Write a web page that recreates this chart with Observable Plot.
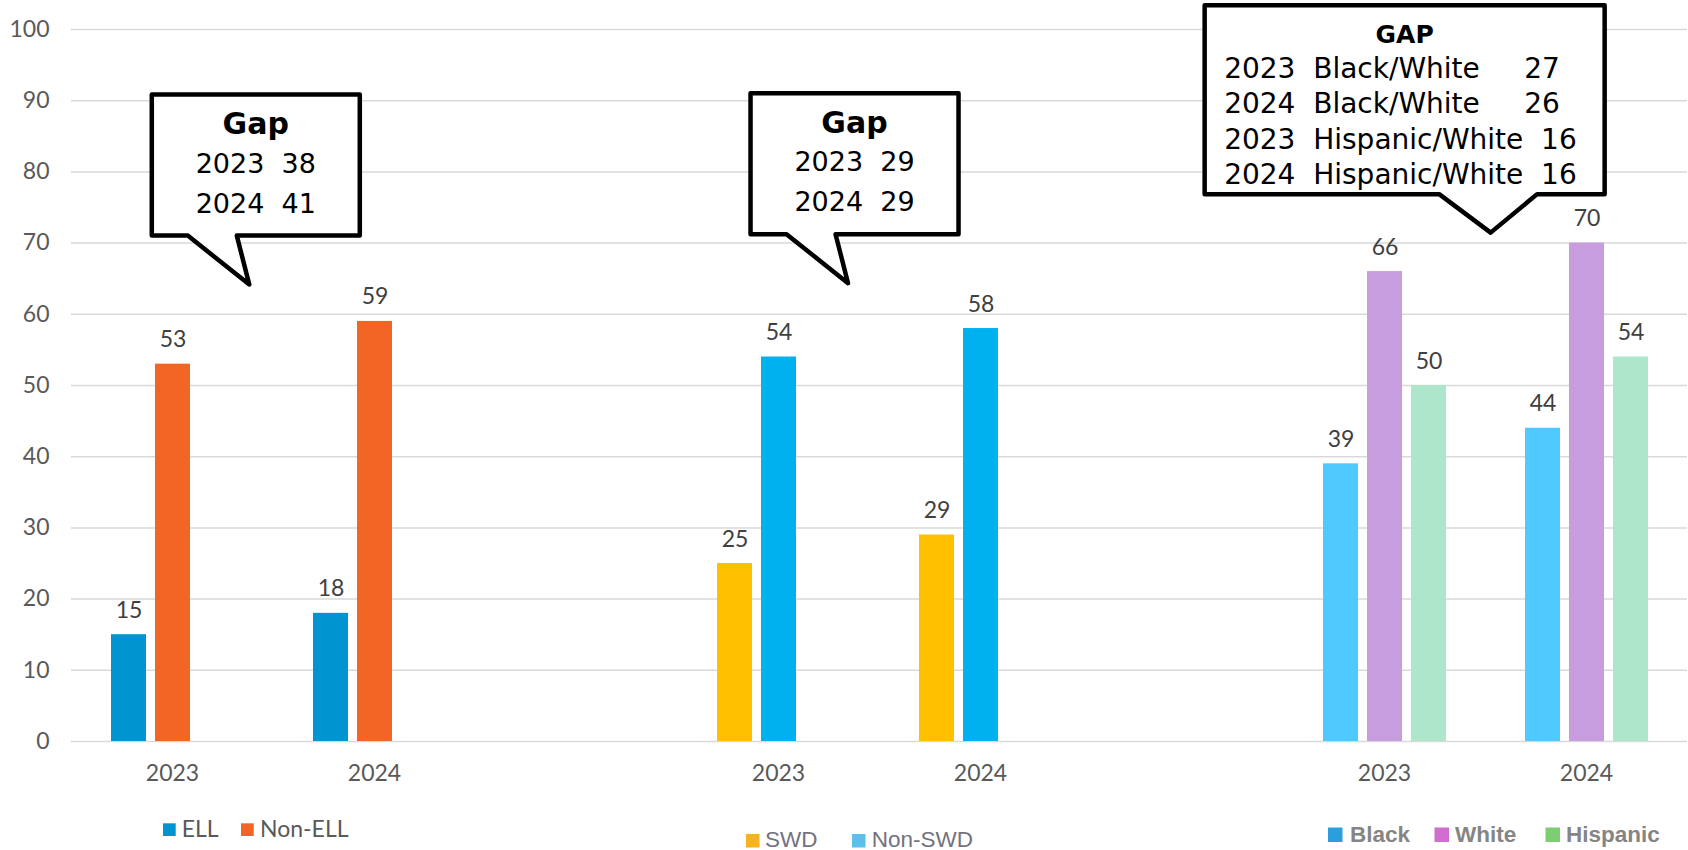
<!DOCTYPE html>
<html>
<head>
<meta charset="utf-8">
<script src="https://cdn.jsdelivr.net/npm/d3@7"></script>
<script src="https://cdn.jsdelivr.net/npm/@observablehq/plot@0.6"></script>
<style>
  html, body { margin: 0; padding: 0; background: #ffffff; }
  #wrap { position: relative; width: 1688px; height: 850px; overflow: hidden; }
  .pre { white-space: pre; }
</style>
</head>
<body>
<div id="wrap"></div>
<script>
// ---------------- DATA ----------------
const years = ["2023", "2024"];
const ell      = [15, 18];
const nonEll   = [53, 59];
const swd      = [25, 29];
const nonSwd   = [54, 58];
const black    = [39, 44];
const white    = [66, 70];
const hispanic = [50, 54];

const groupKeys   = ["ELL 2023", "ELL 2024", "blank A", "SWD 2023", "SWD 2024", "blank B", "Race 2023", "Race 2024"];
const groupLabels = ["2023", "2024", "", "2023", "2024", "", "2023", "2024"];
const yTicks = [0, 10, 20, 30, 40, 50, 60, 70, 80, 90, 100];

const seriesNames = ["ELL", "Non-ELL", "SWD", "Non-SWD", "Black", "White", "Hispanic"];

// ---------------- STYLE ----------------
const seriesColors = ["#0094D0", "#F26524", "#FFC000", "#00B1EF", "#4FC9FF", "#C79DE0", "#ADE6CB"];
const legendColors = {
  "ELL": "#0094D0", "Non-ELL": "#F26524",
  "SWD": "#F5B41E", "Non-SWD": "#5BC1EA",
  "Black": "#2A9FDB", "White": "#CF6ECF", "Hispanic": "#7FCD73"
};

// ---------------- TABLE ----------------
const panels = [
  {prefix: "ELL",  series: [["ELL", ell], ["Non-ELL", nonEll]]},
  {prefix: "SWD",  series: [["SWD", swd], ["Non-SWD", nonSwd]]},
  {prefix: "Race", series: [["Black", black], ["White", white], ["Hispanic", hispanic]]}
];
const rows = [];
for (const p of panels) {
  years.forEach((yr, i) => {
    p.series.forEach(([name, vals], j) => {
      rows.push({cat: `${p.prefix} ${yr}`, slot: j, series: name, value: vals[i]});
    });
  });
}
const gridRows = [];
for (const k of groupKeys) for (const t of yTicks) gridRows.push({cat: k, v: t});

const labelOf = new Map(groupKeys.map((k, i) => [k, groupLabels[i]]));

const W = 1688, H = 800;
const plot = Plot.plot({
  width: W, height: H,
  marginLeft: 70, marginRight: 0, marginTop: 29, marginBottom: 59,
  style: {fontFamily: "Lato, 'Open Sans', sans-serif", fontSize: "23px", color: "#595959", background: "#ffffff"},
  fx: {domain: groupKeys, padding: 0, label: null},
  x: {domain: [0, 1, 2], paddingInner: 0.2076, paddingOuter: 0.861, axis: null},
  y: {domain: [0, 100], label: null, axis: null},
  color: {domain: seriesNames, range: seriesColors},
  marks: [
    Plot.ruleY(gridRows, {fx: "cat", y: "v", stroke: "#d9d9d9", strokeWidth: 1.5}),
    Plot.axisY({ticks: yTicks, tickSize: 0, tickPadding: 22, label: null, fill: "#595959"}),
    Plot.axisFx({anchor: "bottom", tickSize: 0, tickPadding: 23, label: null, tickFormat: k => labelOf.get(k), fill: "#595959"}),
    Plot.barY(rows, {fx: "cat", x: "slot", y: "value", fill: "series"}),
    Plot.text(rows, {fx: "cat", x: "slot", y: "value", text: d => String(d.value), dy: -17, lineAnchor: "bottom", fill: "#404040", fontSize: 23})
  ]
});
document.getElementById("wrap").appendChild(plot);

// ---------------- CALLOUTS (positioned through the plot's scales) ----------------
const fxS = plot.scale("fx"), yS = plot.scale("y");
const svg = d3.select(plot);
const gapLines = (a, b) => years.map((yr, i) => `${yr}  ${b[i] - a[i]}`);
const callouts = [
  {cat: "ELL 2023", frac: 0.8826, at: 64.1, shape: "small", title: "Gap", lines: gapLines(ell, nonEll)},
  {cat: "SWD 2023", frac: 0.8467, at: 64.3, shape: "small", title: "Gap", lines: gapLines(swd, nonSwd)},
  {cat: "Race 2024", frac: 0.028, at: 71.4, shape: "big", title: "GAP", lines: [
    `${years[0]}  Black/White     ${white[0] - black[0]}`,
    `${years[1]}  Black/White     ${white[1] - black[1]}`,
    `${years[0]}  Hispanic/White  ${white[0] - hispanic[0]}`,
    `${years[1]}  Hispanic/White  ${white[1] - hispanic[1]}`
  ]}
];
const g = svg.append("g");
for (const c of callouts) {
  const tx = fxS.apply(c.cat) + fxS.bandwidth * c.frac;
  const ty = yS.apply(c.at);
  let L, T, BW, BH, b1, b2;
  if (c.shape === "small") { L = tx - 97.5; T = ty - 190; BW = 208; BH = 141; b1 = 36; b2 = 85; }
  else { L = tx - 286; T = ty - 227.5; BW = 400; BH = 189; b1 = 234.5; b2 = 332.5; }
  const d = `M${L},${T}H${L + BW}V${T + BH}H${L + b2}L${tx},${ty}L${L + b1},${T + BH}H${L}Z`;
  g.append("path").attr("d", d).attr("fill", "#fff").attr("stroke", "#000")
    .attr("stroke-width", 4.5).attr("stroke-linejoin", "round");
  if (c.shape === "small") {
    g.append("text").attr("x", L + BW / 2).attr("y", T + 39.5).attr("text-anchor", "middle")
      .attr("font-family", "DejaVu Sans").attr("font-weight", "bold").attr("font-size", 30).attr("fill", "#000").text(c.title);
    c.lines.forEach((ln, i) => {
      g.append("text").attr("class", "pre").attr("x", L + BW / 2).attr("y", T + 78 + i * 40).attr("text-anchor", "middle")
        .attr("font-family", "DejaVu Sans").attr("font-size", 27).attr("fill", "#000").text(ln);
    });
  } else {
    g.append("text").attr("x", L + BW / 2).attr("y", T + 38).attr("text-anchor", "middle")
      .attr("font-family", "DejaVu Sans").attr("font-weight", "bold").attr("font-size", 25).attr("fill", "#000").text(c.title);
    c.lines.forEach((ln, i) => {
      g.append("text").attr("class", "pre").attr("x", L + 19.5).attr("y", T + 72.8 + i * 35.5).attr("text-anchor", "start")
        .attr("font-family", "DejaVu Sans").attr("font-size", 28).attr("fill", "#000").text(ln);
    });
  }
}

// ---------------- LEGENDS (below the plot) ----------------
const leg = d3.select("#wrap").append("svg").attr("width", W).attr("height", 50)
  .style("position", "absolute").style("left", "0px").style("top", H + "px");
const legends = [
  {items: ["ELL", "Non-ELL"], sq: [163, 241], tx: [181.7, 260], sqY: 23.3, size: 12.7, base: 37.3,
   font: "Lato, 'Open Sans', sans-serif", weight: "normal", fsize: 23, color: "#595959"},
  {items: ["SWD", "Non-SWD"], sq: [746, 852], tx: [765, 871.7], sqY: 34, size: 13.5, base: 46.5,
   font: "'Liberation Sans', Arial, sans-serif", weight: "normal", fsize: 22.5, color: "#727280"},
  {items: ["Black", "White", "Hispanic"], sq: [1328, 1434.5, 1545.5], tx: [1350, 1455, 1566], sqY: 27.5, size: 14.5, base: 42,
   font: "'Liberation Sans', Arial, sans-serif", weight: "bold", fsize: 22.5, color: "#858585"}
];
for (const L of legends) {
  L.items.forEach((name, i) => {
    leg.append("rect").attr("x", L.sq[i]).attr("y", L.sqY).attr("width", L.size).attr("height", L.size).attr("fill", legendColors[name]);
    leg.append("text").attr("x", L.tx[i]).attr("y", L.base).attr("text-anchor", "start").attr("font-family", L.font).attr("font-weight", L.weight)
      .attr("font-size", L.fsize).attr("fill", L.color).text(name);
  });
}
</script>
</body>
</html>
